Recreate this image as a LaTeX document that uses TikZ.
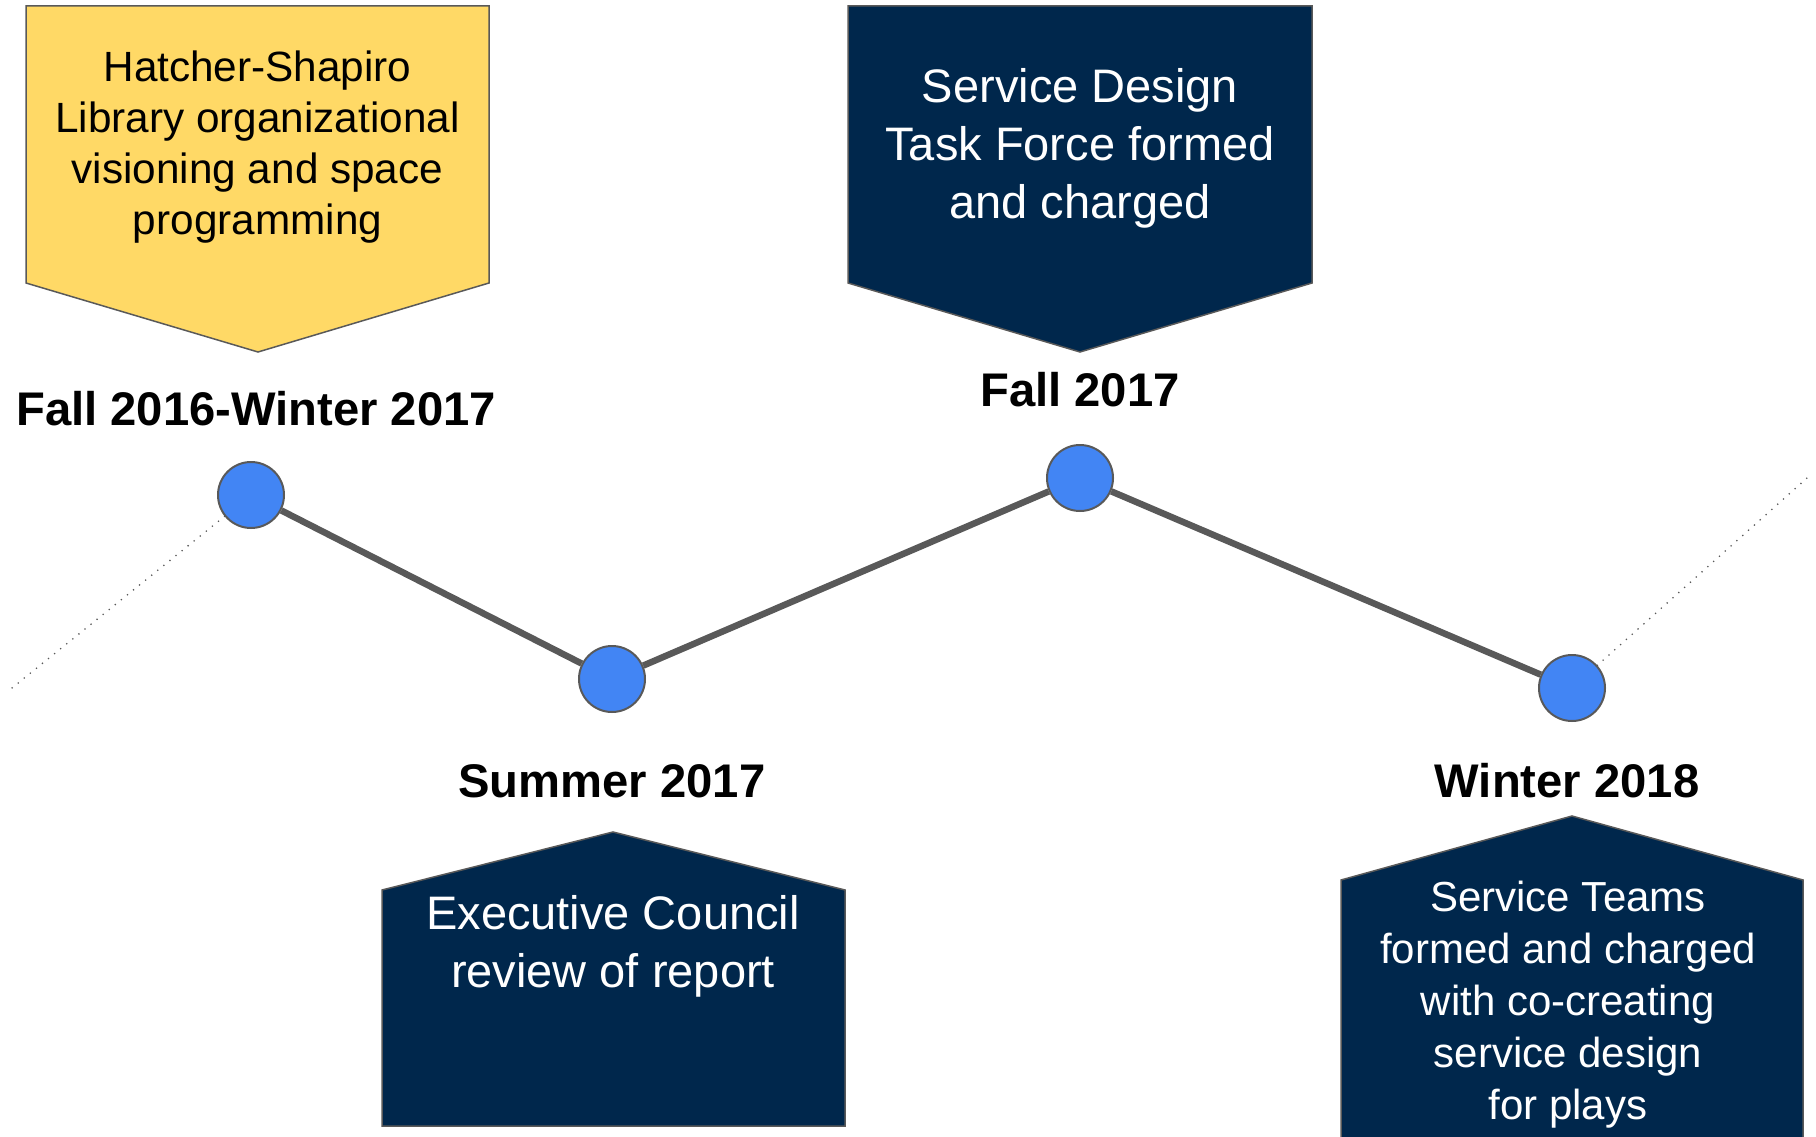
\documentclass[tikz,border=0pt]{standalone}
\usepackage{fontspec}
\setmainfont{Liberation Sans}
\usetikzlibrary{positioning}

\definecolor{navy}{HTML}{00274C}
\definecolor{maize}{HTML}{FFD966}
\definecolor{dotblue}{HTML}{4285F4}
\definecolor{linegray}{HTML}{595959}

\begin{document}
\begin{tikzpicture}[
  x=1pt, y=-1pt,
  milestone/.style={circle, draw=linegray, line width=2pt, fill=dotblue, minimum size=66pt, inner sep=0pt},
  datelabel/.style={font=\fontsize{47.2}{56}\selectfont\bfseries, inner sep=0pt, text height=34pt, text depth=0pt},
  boxtext/.style={align=center, inner sep=0pt},
  callout/.style={draw=linegray, line width=1.5pt},
  link/.style={draw=linegray, line width=6.5pt},
  lead/.style={draw=linegray, line width=1.8pt, line cap=round, dash pattern=on 0pt off 7.8pt}
]
\useasboundingbox (0,0) rectangle (1816,1137);

% callouts
\filldraw[callout, fill=maize] (26,6) -- (489,6) -- (489,283) -- (258,352) -- (26,283) -- cycle;
\filldraw[callout, fill=navy] (848,6) -- (1312,6) -- (1312,283) -- (1080,352) -- (848,283) -- cycle;
\filldraw[callout, fill=navy] (382,890) -- (613,832) -- (845,890) -- (845,1126) -- (382,1126) -- cycle;
\filldraw[callout, fill=navy] (1341,880) -- (1572,816) -- (1803,880) -- (1803,1150) -- (1341,1150) -- cycle;

\node[boxtext, font=\fontsize{42.3}{51}\selectfont] (vision) at (257.5,147)
  {Hatcher-Shapiro\\Library organizational\\visioning and space\\programming};
\node[boxtext, text=white, font=\fontsize{47}{58}\selectfont] (taskforce) at (1080,148)
  {Service Design\\Task Force formed\\and charged};
\node[boxtext, text=white, font=\fontsize{47}{58}\selectfont] (council) at (613,946)
  {Executive Council\\review of report};
\node[boxtext, text=white, font=\fontsize{42}{52}\selectfont] (teams) at (1568,1005)
  {Service Teams\\formed and charged\\with co-creating\\service design\\for plays};

% timeline
\node[milestone] (fall16) at (251,495) {};
\node[milestone] (summer17) at (612,679) {};
\node[milestone] (fall17) at (1080,478) {};
\node[milestone] (winter18) at (1572,688) {};

\node[datelabel, above=35pt of fall16, xshift=5pt] (fall16date) {Fall 2016-Winter 2017};
\node[datelabel, below=50pt of summer17] (summer17date) {Summer 2017};
\node[datelabel, above=37pt of fall17] (fall17date) {Fall 2017};
\node[datelabel, below=41pt of winter18, xshift=-5pt] (winter18date) {Winter 2018};

\coordinate (leftend) at (7,692);
\coordinate (rightend) at (1807,478);

\draw[link] (fall16) -- (summer17);
\draw[link] (summer17) -- (fall17);
\draw[link] (fall17) -- (winter18);
\draw[lead] (fall16) -- (leftend);
\draw[lead] (winter18) -- (rightend);
\end{tikzpicture}
\end{document}
